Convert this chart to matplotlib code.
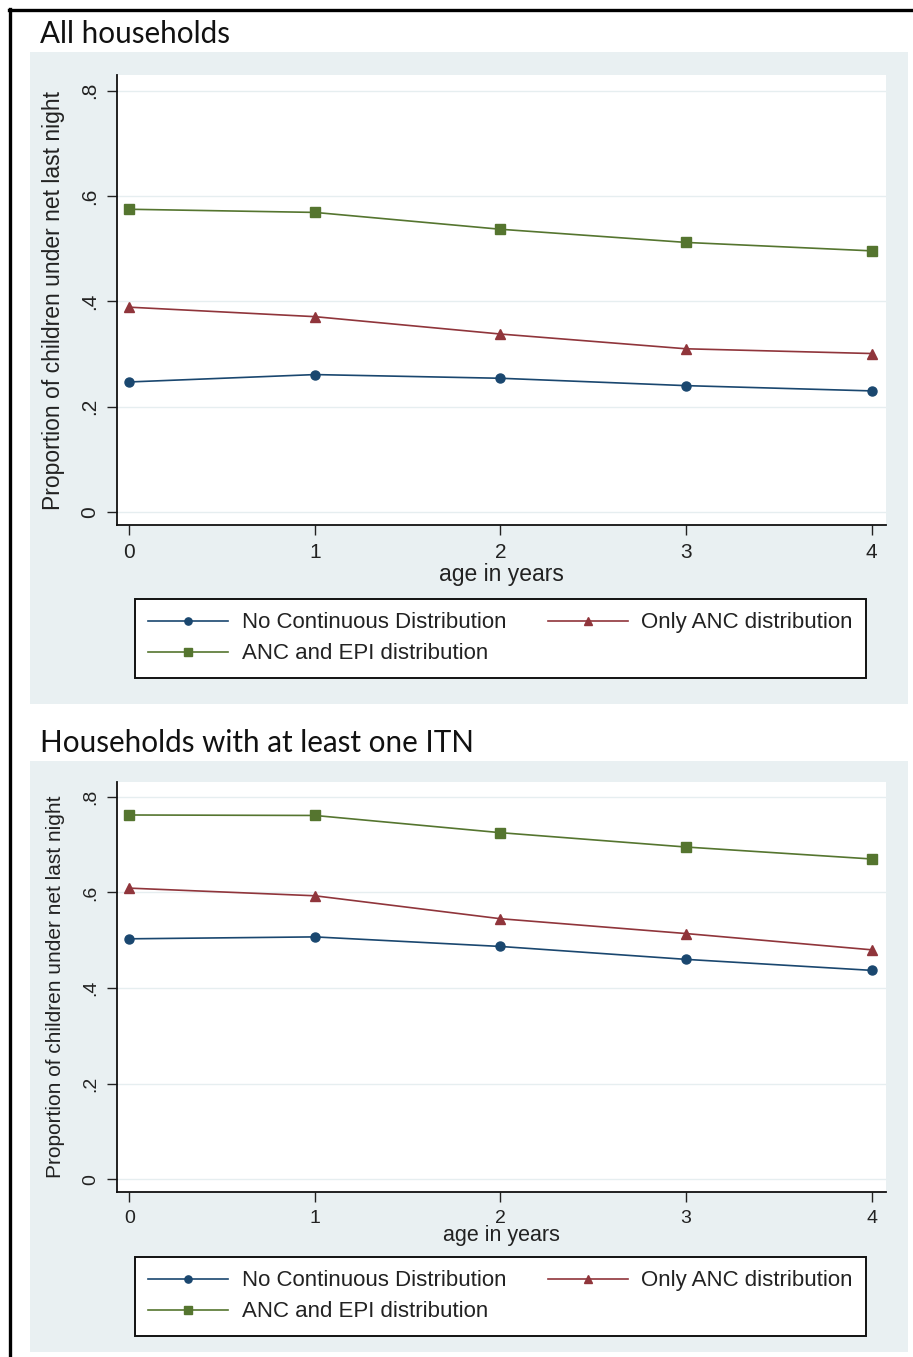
import matplotlib
matplotlib.use("Agg")
import matplotlib.pyplot as plt
from matplotlib.patches import Rectangle
from matplotlib.lines import Line2D

# data
ages = [0, 1, 2, 3, 4]
series_names = ["No Continuous Distribution", "Only ANC distribution", "ANC and EPI distribution"]

all_no_cd = [0.247, 0.261, 0.254, 0.240, 0.230]
all_anc = [0.389, 0.371, 0.338, 0.310, 0.301]
all_anc_epi = [0.575, 0.569, 0.537, 0.512, 0.496]

itn_no_cd = [0.503, 0.507, 0.487, 0.460, 0.437]
itn_anc = [0.609, 0.593, 0.545, 0.514, 0.480]
itn_anc_epi = [0.762, 0.761, 0.725, 0.695, 0.670]

y_ticks = [0, 0.2, 0.4, 0.6, 0.8]
y_ticklabels = ["0", ".2", ".4", ".6", ".8"]

panel_titles = ["All households", "Households with at least one ITN"]

W, H = 913, 1357
NAVY = "#1a476f"
MAROON = "#90353b"
GREEN = "#55752f"
BG = "#e9f0f2"
GRID = "#e6eef0"

plt.rcParams["font.family"] = ["Liberation Sans", "DejaVu Sans"]

fig = plt.figure(figsize=(W / 100, H / 100), dpi=100)
fig.patch.set_facecolor("white")


def fr(x, y):
    return x / W, 1 - y / H


def panel(series, title, bg_box, ax_box, title_y, ylim, fs, ylab_fs, xlab_y, legend_box):
    # light background region
    x0, y0, x1, y1 = bg_box
    fig.add_artist(Rectangle(fr(x0, y1), (x1 - x0) / W, (y1 - y0) / H,
                             transform=fig.transFigure, facecolor=BG,
                             edgecolor="none", zorder=0))
    fig.text(40 / W, 1 - title_y / H, title, fontsize=21.3, family=["Lato", "DejaVu Sans"],
             color="#111111", va="baseline", ha="left")

    l, t, r, b = ax_box
    ax = fig.add_axes([l / W, 1 - b / H, (r - l) / W, (b - t) / H])
    ax.set_facecolor("white")
    ax.set_zorder(2)

    markers = ["o", "^", "s"]
    colors = [NAVY, MAROON, GREEN]
    msizes = [6.5, 7.5, 7.5]
    lines = []
    for vals, name, m, c, ms in zip(series, series_names, markers, colors, msizes):
        ln, = ax.plot(ages, vals, color=c, lw=1.2, marker=m, ms=ms, mec=c, mfc=c, label=name)
        lines.append(ln)

    ax.set_xlim(-0.067, 4.078)
    ax.set_ylim(*ylim)
    ax.set_xticks(ages)
    ax.set_yticks(y_ticks)
    ax.set_yticklabels(y_ticklabels, rotation=90, va="center")
    ax.tick_params(axis="both", direction="out", length=7, width=1, color="#222222",
                   labelsize=fs, labelcolor="#222222")
    ax.tick_params(axis="y", pad=6)
    ax.tick_params(axis="x", pad=6)
    ax.grid(axis="y", color=GRID, lw=1)
    ax.set_axisbelow(True)
    for s in ["top", "right"]:
        ax.spines[s].set_visible(False)
    for s in ["left", "bottom"]:
        ax.spines[s].set_linewidth(1.3)
        ax.spines[s].set_color("#111111")

    ax.set_ylabel("Proportion of children under net last night", fontsize=ylab_fs, color="#222222")
    ax.yaxis.set_label_coords(-52 / (r - l), 0.5)
    ax.set_xlabel("age in years", fontsize=fs + 1.5, color="#222222", va="center")
    ax.xaxis.set_label_coords(0.5, -(xlab_y - b) / (b - t))

    # row-wise legend order: matplotlib fills columns first
    order = [0, 2, 1]
    lx0, ly0, lx1, ly1 = legend_box
    bx, by = fr(lx0, ly0)
    leg = ax.legend([lines[i] for i in order], [series_names[i] for i in order],
                    loc="upper left", bbox_to_anchor=(bx, by, (lx1 - lx0) / W, 0.0),
                    bbox_transform=fig.transFigure, mode="expand", ncol=2,
                    borderaxespad=0.0, fontsize=16, handlelength=3.6, handletextpad=0.6,
                    columnspacing=1.2, labelspacing=0.45, borderpad=0.6,
                    markerscale=0.8, fancybox=False, framealpha=1, edgecolor="#111111")
    leg.get_frame().set_linewidth(1.4)
    for txt in leg.get_texts():
        txt.set_color("#222222")
    return ax


panel([all_no_cd, all_anc, all_anc_epi], panel_titles[0],
      (30, 52, 908, 704), (117, 75, 886, 525), 43,
      (-0.0247, 0.830), 15, 16.5, 574, (135, 599, 866, 673))

panel([itn_no_cd, itn_anc, itn_anc_epi], panel_titles[1],
      (30, 761, 908, 1352), (117, 782, 886, 1192), 752,
      (-0.0266, 0.831), 14, 15, 1235, (135, 1257, 866, 1326))

# outer frame lines (left and top)
fig.add_artist(Line2D([10 / W, 10 / W], [0, 1 - 9 / H], transform=fig.transFigure,
                      color="black", lw=2.4))
fig.add_artist(Line2D([9 / W, 1], [1 - 10 / H, 1 - 10 / H], transform=fig.transFigure,
                      color="black", lw=2.4))

fig.savefig("out.png", dpi=100)
